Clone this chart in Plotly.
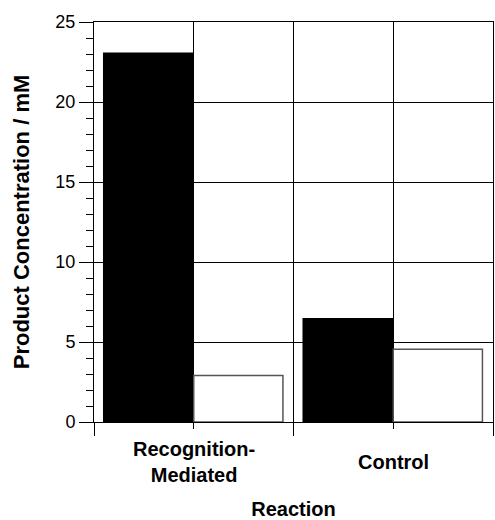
import plotly.graph_objects as go

categories = ["Recognition-<br>Mediated", "Control"]
cat_pos = [0, 1]
series_black = [23.1, 6.5]
series_white = [2.9, 4.55]
y_ticks = [0, 5, 10, 15, 20, 25]

FONT = "Liberation Sans, Arial, Helvetica, sans-serif"

fig = go.Figure()
fig.add_trace(go.Bar(
    x=cat_pos, y=series_black, offset=-0.455, width=0.455,
    marker=dict(color="black", line=dict(width=0)), showlegend=False,
))
fig.add_trace(go.Bar(
    x=cat_pos, y=series_white, offset=0.0, width=0.447,
    marker=dict(color="white", line=dict(color="#555555", width=1.5)), showlegend=False,
))

for pos, label in zip(cat_pos, categories):
    fig.add_annotation(
        x=pos, xref="x", y=-0.1, yref="paper", yanchor="middle",
        text="<b>" + label.replace("<br>", "</b><br><b>") + "</b>",
        showarrow=False, font=dict(size=20, family=FONT, color="black"),
        align="center",
    )

fig.update_layout(
    width=495, height=520,
    margin=dict(l=94, r=2, t=22, b=98),
    plot_bgcolor="white", paper_bgcolor="white",
    font=dict(family=FONT, color="black"),
    barmode="overlay",
    xaxis=dict(
        range=[-0.5, 1.5], automargin=False,
        tickmode="array", tickvals=cat_pos, showticklabels=False,
        ticks="outside", ticklen=6, tickcolor="black", tickwidth=1,
        showgrid=True, gridcolor="black", gridwidth=1,
        showline=True, linecolor="black", linewidth=1, mirror=True,
        zeroline=False,
        minor=dict(tickvals=[-0.5, 0.5, 1.5], ticks="outside", ticklen=13,
                   tickcolor="black", tickwidth=1, showgrid=True,
                   gridcolor="black", gridwidth=1),
        title=dict(text="<b>Reaction</b>", font=dict(size=20, family=FONT), standoff=73),
    ),
    yaxis=dict(
        range=[0, 25], automargin=False,
        tickmode="array", tickvals=y_ticks,
        ticks="outside", ticklen=14, tickcolor="black", tickwidth=1,
        tickfont=dict(size=18, family=FONT),
        showgrid=True, gridcolor="black", gridwidth=1,
        showline=True, linecolor="black", linewidth=1, mirror=True,
        zeroline=False,
        minor=dict(dtick=1, ticks="outside", ticklen=7, tickcolor="black",
                   tickwidth=1, showgrid=False),
        title=dict(text="<b>Product Concentration / mM</b>", font=dict(size=22, family=FONT), standoff=19),
    ),
)

fig.write_html(
    "out.html",
    config={"displayModeBar": False},
    post_script="document.body.style.margin='0';document.body.style.overflow='hidden';",
)
